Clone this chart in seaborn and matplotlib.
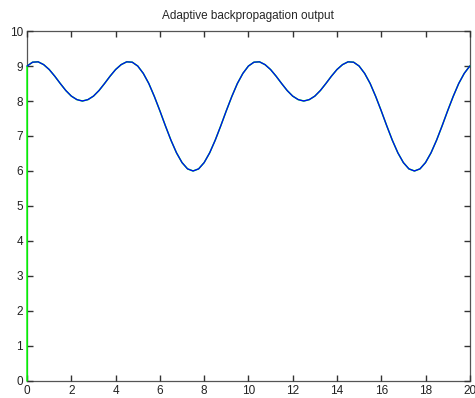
import matplotlib
matplotlib.use("Agg")
import matplotlib.pyplot as plt
import seaborn as sns

t = [i * 0.25 for i in range(81)]
target = [
    9.00, 9.11, 9.12, 9.04, 8.90, 8.71, 8.50, 8.30, 8.14, 8.04,
    8.00, 8.04, 8.14, 8.30, 8.50, 8.71, 8.90, 9.04, 9.12, 9.11,
    9.00, 8.79, 8.50, 8.13, 7.72, 7.29, 6.88, 6.52, 6.24, 6.06,
    6.00, 6.06, 6.24, 6.52, 6.88, 7.29, 7.72, 8.13, 8.50, 8.79,
    9.00, 9.11, 9.12, 9.04, 8.90, 8.71, 8.50, 8.30, 8.14, 8.04,
    8.00, 8.04, 8.14, 8.30, 8.50, 8.71, 8.90, 9.04, 9.12, 9.11,
    9.00, 8.79, 8.50, 8.13, 7.72, 7.29, 6.88, 6.52, 6.24, 6.06,
    6.00, 6.06, 6.24, 6.52, 6.88, 7.29, 7.72, 8.13, 8.50, 8.79,
    9.00,
]
# network output starts at 0 and then tracks the target
t_out = [0.0] + t
output = [0.0] + target

x_ticks = [0, 2, 4, 6, 8, 10, 12, 14, 16, 18, 20]
y_ticks = [0, 1, 2, 3, 4, 5, 6, 7, 8, 9, 10]

sns.set_style("ticks")
plt.rcParams['font.family'] = ['Liberation Sans', 'DejaVu Sans']

fig = plt.figure(figsize=(4.75, 3.98), dpi=100)
ax = fig.add_axes([0.057, 0.043, 0.932, 0.879])

sns.lineplot(x=t_out, y=output, ax=ax, color='#00ff00', linewidth=1.1,
             sort=False, estimator=None, zorder=3, clip_on=False)
sns.lineplot(x=t, y=target, ax=ax, color='#0000ff', linewidth=0.9,
             sort=False, estimator=None, zorder=4, clip_on=False)

ax.set_xlim(0, 20)
ax.set_ylim(0, 10)
ax.set_xticks(x_ticks)
ax.set_yticks(y_ticks)
ax.set_axisbelow(False)
ax.tick_params(axis='both', which='major', direction='in', length=4, width=1.0,
               bottom=True, left=True, top=True, right=True,
               labelsize=8.5, color='#333333', labelcolor='#222222', pad=3)
for s in ax.spines.values():
    s.set_visible(True)
    s.set_color('#555555')
    s.set_linewidth(0.9)
ax.set_title('Adaptive backpropagation output', fontsize=8.5, pad=9)

fig.savefig('out.png', dpi=100)
